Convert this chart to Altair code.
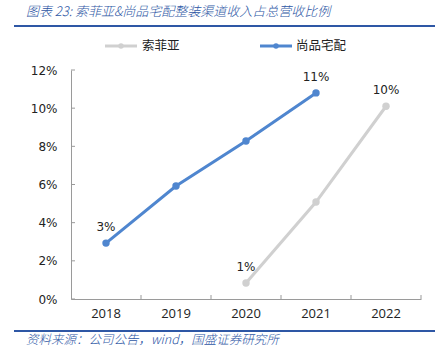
import altair as alt
import pandas as pd

years = ["2018", "2019", "2020", "2021", "2022"]
series_names = ["索菲亚", "尚品宅配"]
sofia_years = ["2020", "2021", "2022"]
sofia_values = [0.0084, 0.0508, 0.101]
spzp_years = ["2018", "2019", "2020", "2021"]
spzp_values = [0.0293, 0.0592, 0.0828, 0.108]
label_points = [("尚品宅配", "2018"), ("尚品宅配", "2021"), ("索菲亚", "2020"), ("索菲亚", "2022")]
y_ticks = [0, 0.02, 0.04, 0.06, 0.08, 0.10, 0.12]
title_text = "图表 23:  索菲亚&尚品宅配整装渠道收入占总营收比例"
source_text = "资料来源：公司公告，wind，国盛证券研究所"

rows = []
for y, v in zip(sofia_years, sofia_values):
    rows.append({"year": y, "series": series_names[0], "value": v})
for y, v in zip(spzp_years, spzp_values):
    rows.append({"year": y, "series": series_names[1], "value": v})
df = pd.DataFrame(rows)
lab = df[[(s, y) in label_points for s, y in zip(df.series, df.year)]]

GREY = "#D0D0D0"
BLUE = "#4F86CF"
NAVY = "#2E57A5"
CJK = "Noto Sans CJK SC"

xscale = alt.Scale(type="band", domain=years, paddingInner=0, paddingOuter=0)
yscale = alt.Scale(domain=[0, 0.12], nice=False)
cscale = alt.Scale(domain=series_names, range=[GREY, BLUE])

xaxis = alt.Axis(title=None, ticks=False, labelAngle=0, labelFont="Open Sans",
                 labelFontSize=13, labelColor="#222", labelPadding=8,
                 domainColor="#9A9A9A", grid=False)
yaxis = alt.Axis(title=None, values=y_ticks, tickCount=7, format=".0%", ticks=False,
                 labelOverlap=False, labelFont="DejaVu Sans", labelFontSize=12,
                 labelColor="#222", labelPadding=14, domainColor="#9A9A9A",
                 grid=False)

X = alt.X("year:N", scale=xscale, bandPosition=0.5, axis=xaxis)
Y = alt.Y("value:Q", scale=yscale, axis=yaxis)

lines = alt.Chart(df).mark_line(strokeWidth=3).encode(
    x=X, y=Y, color=alt.Color("series:N", scale=cscale, legend=None),
    detail="series:N")
points = alt.Chart(df).mark_point(filled=True, size=55, opacity=1).encode(
    x=X, y=Y, color=alt.Color("series:N", scale=cscale, legend=None))
labels = alt.Chart(lab).mark_text(dy=-16, font="DejaVu Sans", fontSize=12, color="#222").encode(
    x=X, y=Y, text=alt.Text("value:Q", format=".0%"))

ytick = alt.Chart(pd.DataFrame({"value": y_ticks})).mark_rule(color="#9A9A9A").encode(
    y=Y, x=alt.value(0), x2=alt.value(4))
xtick = alt.Chart(pd.DataFrame({"year": years})).mark_rule(color="#9A9A9A").encode(
    x=alt.X("year:N", scale=xscale, bandPosition=1, axis=xaxis), y=alt.value(229), y2=alt.value(225))

one = pd.DataFrame({"t": [title_text], "s": [source_text], "a": [series_names[0]], "b": [series_names[1]]})
base = alt.Chart(one)
title = base.mark_text(align="left", baseline="middle", font=CJK, fontSize=13,
                       fontStyle="oblique", fontWeight=300, color=NAVY).encode(
    x=alt.value(-45), y=alt.value(-58), text="t:N")
topline = base.mark_rule(color=NAVY, strokeWidth=2).encode(
    x=alt.value(-57), x2=alt.value(364), y=alt.value(-44))
botline = base.mark_rule(color=NAVY, strokeWidth=2).encode(
    x=alt.value(-57), x2=alt.value(364), y=alt.value(261))
source = base.mark_text(align="left", baseline="middle", font=CJK, fontSize=12.5,
                        fontStyle="oblique", fontWeight=300, color=NAVY).encode(
    x=alt.value(-45), y=alt.value(270), text="s:N")

lg1 = base.mark_rule(color=GREY, strokeWidth=3).encode(x=alt.value(34), x2=alt.value(66), y=alt.value(-24))
lg1p = base.mark_point(filled=True, size=30, color=GREY, opacity=1).encode(x=alt.value(50), y=alt.value(-24))
lg1t = base.mark_text(align="left", baseline="middle", font=CJK, fontSize=12.5, color="#222").encode(
    x=alt.value(71), y=alt.value(-24), text="a:N")
lg2 = base.mark_rule(color=BLUE, strokeWidth=3).encode(x=alt.value(189), x2=alt.value(221), y=alt.value(-24))
lg2p = base.mark_point(filled=True, size=30, color=BLUE, opacity=1).encode(x=alt.value(205), y=alt.value(-24))
lg2t = base.mark_text(align="left", baseline="middle", font=CJK, fontSize=12.5, color="#222").encode(
    x=alt.value(225), y=alt.value(-24), text="b:N")

chart = alt.layer(
    lines, points, labels, ytick, xtick, title, topline, botline, source,
    lg1, lg1p, lg1t, lg2, lg2p, lg2t
).properties(
    width=350, height=229,
    autosize=alt.AutoSizeParams(type="none"),
    padding={"left": 71, "top": 70, "right": 20, "bottom": 57},
    background="white",
).configure_view(stroke=None)

chart.save("out.html", embed_options={"renderer": "svg", "actions": False})
